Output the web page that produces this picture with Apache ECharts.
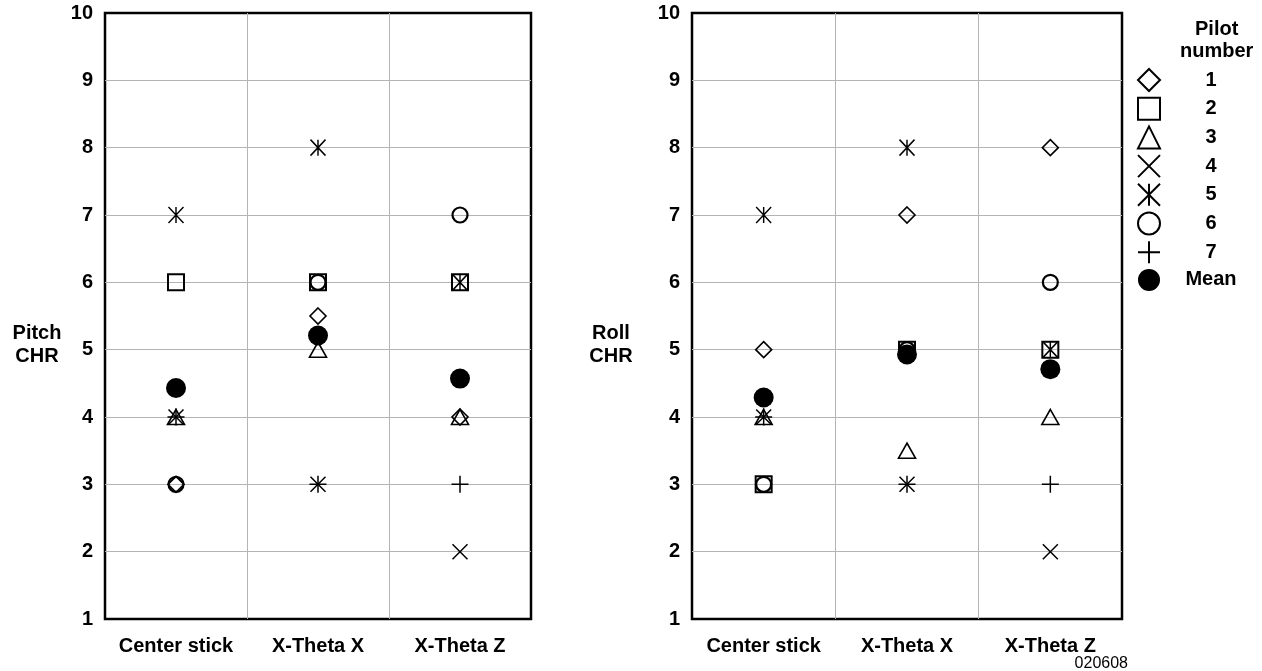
<!DOCTYPE html>
<html>
<head>
<meta charset="utf-8">
<title>Pitch and Roll CHR</title>
<script src="https://cdn.jsdelivr.net/npm/echarts@6/dist/echarts.min.js"></script>
<style>
  html, body { margin: 0; padding: 0; background: #fff; }
  #chart { width: 1262px; height: 671px; }
</style>
</head>
<body>
<div id="chart"></div>
<script>
// categories and tick values
const categories = ['Center stick', 'X-Theta X', 'X-Theta Z']
const yTicks = [1, 2, 3, 4, 5, 6, 7, 8, 9, 10]
const pilotNames = ['1', '2', '3', '4', '5', '6', '7', 'Mean']

// Pitch CHR, one array per pilot (values per category)
const pitch1 = [3, 5.5, 4]
const pitch2 = [6, 6, 6]
const pitch3 = [4, 5, 4]
const pitch4 = [4, 3, 2]
const pitch5 = [7, 8, 6]
const pitch6 = [3, 6, 7]
const pitch7 = [4, 3, 3]
const pitchMean = [4.43, 5.21, 4.57]

// Roll CHR
const roll1 = [5, 7, 8]
const roll2 = [3, 5, 5]
const roll3 = [4, 3.5, 4]
const roll4 = [4, 3, 2]
const roll5 = [7, 8, 5]
const roll6 = [3, 5, 6]
const roll7 = [4, 3, 3]
const rollMean = [4.29, 4.93, 4.71]

const pitchData = [pitch1, pitch2, pitch3, pitch4, pitch5, pitch6, pitch7, pitchMean]
const rollData = [roll1, roll2, roll3, roll4, roll5, roll6, roll7, rollMean]

const FONT = '"Liberation Sans", Arial, Helvetica, sans-serif'

// marker look for each pilot
const markers = [
  { symbol: 'diamond', size: [16, 16], color: 'transparent', bw: 1.6 },
  { symbol: 'rect', size: [16, 16], color: 'transparent', bw: 2 },
  { symbol: 'triangle', size: [17, 15], color: 'transparent', bw: 1.6 },
  { symbol: 'path://M0,0L10,10M10,0L0,10', size: [15, 15], color: 'transparent', bw: 1.5 },
  { symbol: 'path://M0,0L10,10M10,0L0,10M5,0L5,10', size: [15, 16], color: 'transparent', bw: 1.5 },
  { symbol: 'circle', size: 15, color: 'transparent', bw: 2.2 },
  { symbol: 'path://M5,0L5,10M0,5L10,5', size: [17, 17], color: 'transparent', bw: 1.5 },
  { symbol: 'circle', size: 20, color: '#000', bw: 0 }
]

function buildSeries(dataList, gridIdx) {
  return dataList.map((vals, i) => ({
    name: pilotNames[i],
    type: 'scatter',
    xAxisIndex: gridIdx,
    yAxisIndex: gridIdx,
    symbol: markers[i].symbol,
    symbolSize: markers[i].size,
    symbolKeepAspect: false,
    z: i === 7 ? 5 : 3,
    itemStyle: {
      color: markers[i].color,
      borderColor: '#000',
      borderWidth: markers[i].bw,
      opacity: 1
    },
    emphasis: { disabled: true },
    data: categories.map((c, k) => [c, vals[k]])
  }))
}

function xAxis(gridIdx) {
  return {
    type: 'category',
    gridIndex: gridIdx,
    data: categories,
    boundaryGap: true,
    axisLine: { show: false },
    axisTick: { show: false },
    axisLabel: {
      interval: 0, margin: 17,
      color: '#000', fontFamily: FONT, fontWeight: 'bold', fontSize: 20
    },
    splitLine: {
      show: true, interval: 0, showMinLine: false, showMaxLine: false,
      lineStyle: { color: '#b4b4b4', width: 1 }
    }
  }
}

function yAxis(gridIdx, name, gap) {
  return {
    type: 'value',
    gridIndex: gridIdx,
    min: yTicks[0],
    max: yTicks[yTicks.length - 1],
    interval: 1,
    name: name,
    nameLocation: 'middle',
    nameRotate: 0,
    nameGap: gap,
    nameTextStyle: {
      color: '#000', fontFamily: FONT, fontWeight: 'bold', fontSize: 20,
      align: 'center', verticalAlign: 'top', lineHeight: 23, padding: [6, 0, 0, 0]
    },
    axisLine: { show: false },
    axisTick: { show: false },
    axisLabel: {
      margin: 12,
      color: '#000', fontFamily: FONT, fontWeight: 'bold', fontSize: 20
    },
    splitLine: {
      show: true, showMinLine: false, showMaxLine: false,
      lineStyle: { color: '#b4b4b4', width: 1 }
    }
  }
}

const chart = echarts.init(document.getElementById('chart'), null, { renderer: 'canvas' })

chart.setOption({
  animation: false,
  backgroundColor: '#fff',
  textStyle: { fontFamily: FONT },
  grid: [
    { left: 105, top: 13, width: 426, height: 606, show: true, borderColor: '#000', borderWidth: 2.5, backgroundColor: 'transparent' },
    { left: 692, top: 13, width: 430, height: 606, show: true, borderColor: '#000', borderWidth: 2.5, backgroundColor: 'transparent' }
  ],
  xAxis: [xAxis(0), xAxis(1)],
  yAxis: [yAxis(0, 'Pitch\nCHR', 68), yAxis(1, 'Roll\nCHR', 81)],
  legend: {
    orient: 'vertical',
    left: 1137,
    top: 68,
    padding: 0,
    itemWidth: 22,
    itemHeight: 22,
    itemGap: 4.7,
    selectedMode: false,
    data: pilotNames,
    formatter: name => '{a|' + name + '}',
    textStyle: {
      color: '#000', fontFamily: FONT, fontWeight: 'bold', fontSize: 20,
      rich: { a: { width: 92, align: 'center', fontFamily: FONT, fontWeight: 'bold', fontSize: 20 } }
    }
  },
  graphic: [
    {
      type: 'text', left: 1180, top: 18,
      style: { text: 'Pilot\nnumber', textAlign: 'center', fill: '#000', font: 'bold 20px ' + FONT, lineHeight: 22 }
    },
    {
      type: 'text', right: 134, top: 656,
      style: { text: '020608', fill: '#000', font: '16px ' + FONT }
    }
  ],
  series: buildSeries(pitchData, 0).concat(buildSeries(rollData, 1))
})
</script>
</body>
</html>
